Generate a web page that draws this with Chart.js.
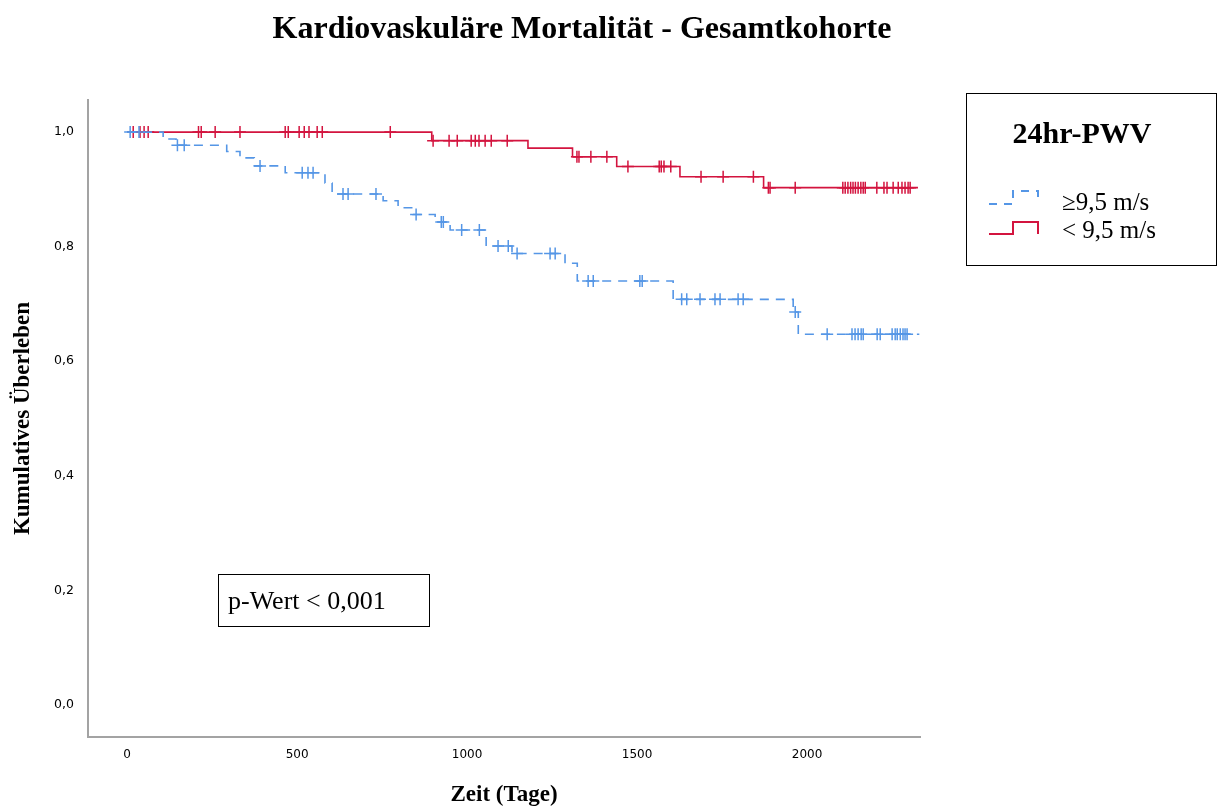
<!DOCTYPE html>
<html>
<head>
<meta charset="utf-8">
<script src="https://cdn.jsdelivr.net/npm/chart.js@4.4.1/dist/chart.umd.min.js"></script>
<style>
  html, body { margin: 0; padding: 0; background: #ffffff; }
  #wrap { position: relative; width: 1218px; height: 807px; }
</style>
</head>
<body>
<div id="wrap"><canvas id="km" width="1218" height="807"></canvas></div>
<script>
// Texts
const chartTitle = 'Kardiovaskuläre Mortalität - Gesamtkohorte';
const xAxisTitle = 'Zeit (Tage)';
const yAxisTitle = 'Kumulatives Überleben';
const legendTitle = '24hr-PWV';
const groupLabels = ['≥9,5 m/s', '< 9,5 m/s'];
const pValueText = 'p-Wert < 0,001';

// Axis ticks
const xTicks = [0, 500, 1000, 1500, 2000];
const yTicks = [0, 0.2, 0.4, 0.6, 0.8, 1.0];

// Group ≥9,5 m/s: step days and survival from that day on
const highDays = [0, 106, 144, 293, 332, 374, 465, 582, 603, 753, 797, 841, 906, 950, 1056, 1132, 1288, 1324, 1606, 1959, 1974, 2330];
const highSurv = [1.0, 0.988, 0.977, 0.966, 0.955, 0.941, 0.929, 0.911, 0.892, 0.880, 0.868, 0.856, 0.843, 0.829, 0.801, 0.788, 0.771, 0.740, 0.708, 0.686, 0.647, 0.647];
const highCensored = [9, 35, 148, 168, 391, 515, 532, 547, 635, 650, 732, 850, 924, 930, 984, 1036, 1091, 1121, 1147, 1244, 1259, 1356, 1371, 1508, 1515, 1631, 1646, 1685, 1729, 1744, 1797, 1812, 1965, 2059, 2132, 2141, 2150, 2159, 2165, 2206, 2215, 2250, 2259, 2265, 2274, 2282, 2288, 2294];

// Group < 9,5 m/s
const lowDays = [0, 896, 1179, 1310, 1440, 1626, 1872, 2326];
const lowSurv = [1.0, 0.985, 0.972, 0.957, 0.940, 0.922, 0.903, 0.903];
const lowCensored = [18, 38, 50, 62, 210, 218, 259, 332, 465, 474, 506, 521, 535, 559, 574, 774, 900, 947, 971, 1012, 1024, 1035, 1053, 1071, 1118, 1323, 1329, 1364, 1411, 1473, 1565, 1571, 1579, 1599, 1688, 1753, 1842, 1886, 1891, 1965, 2105, 2112, 2120, 2128, 2135, 2142, 2150, 2158, 2165, 2171, 2205, 2226, 2235, 2253, 2268, 2279, 2288, 2297, 2303];

const highColor = '#5596e6';
const lowColor = '#d3143f';
const axisColor = '#a3a3a3';
const serif = "'Liberation Serif', 'Times New Roman', serif";
const sans = "'DejaVu Sans', sans-serif";

// survival level of a step curve at a given day
function survivalAt(days, surv, t) {
  let s = surv[0];
  for (let i = 0; i < days.length; i++) {
    if (days[i] <= t) s = surv[i];
  }
  return s;
}
const toPoints = (days, surv) => days.map((d, i) => ({ x: d, y: surv[i] }));
const censorPoints = (cens, days, surv) => cens.map(t => ({ x: t, y: survivalAt(days, surv, t) }));

// Title, legend box and p-value box
const annotations = {
  id: 'annotations',
  afterDraw(chart) {
    const ctx = chart.ctx;
    ctx.save();
    ctx.fillStyle = '#000';
    ctx.textBaseline = 'alphabetic';
    ctx.textAlign = 'center';
    ctx.font = `bold 32px ${serif}`;
    ctx.fillText(chartTitle, 582, 38);

    // legend
    ctx.strokeStyle = '#000';
    ctx.lineWidth = 1;
    ctx.strokeRect(966.5, 93.5, 250, 172);
    ctx.font = `bold 30px ${serif}`;
    ctx.fillText(legendTitle, 1082, 143);

    ctx.lineWidth = 2;
    ctx.strokeStyle = highColor;
    ctx.setLineDash([8, 7]);
    ctx.beginPath();
    ctx.moveTo(989, 204); ctx.lineTo(1013, 204); ctx.lineTo(1013, 191);
    ctx.lineTo(1038, 191); ctx.lineTo(1038, 204);
    ctx.stroke();
    ctx.setLineDash([]);
    ctx.strokeStyle = lowColor;
    ctx.beginPath();
    ctx.moveTo(989, 234); ctx.lineTo(1013, 234); ctx.lineTo(1013, 222);
    ctx.lineTo(1038, 222); ctx.lineTo(1038, 234);
    ctx.stroke();

    ctx.textAlign = 'left';
    ctx.textBaseline = 'middle';
    ctx.font = `25px ${serif}`;
    ctx.fillText(groupLabels[0], 1062, 203);
    ctx.fillText(groupLabels[1], 1062, 231);

    // p-value box
    ctx.strokeStyle = '#000';
    ctx.lineWidth = 1;
    ctx.strokeRect(218.5, 574.5, 211, 52);
    ctx.font = `26px ${serif}`;
    ctx.fillText(pValueText, 228, 602);
    ctx.restore();
  }
};

new Chart(document.getElementById('km'), {
  type: 'scatter',
  data: {
    datasets: [
      {
        label: groupLabels[0],
        data: toPoints(highDays, highSurv),
        showLine: true,
        stepped: true,
        borderColor: highColor,
        borderWidth: 1.6,
        borderDash: [9, 7],
        pointRadius: 0,
        fill: false
      },
      {
        label: groupLabels[0] + ' zensiert',
        data: censorPoints(highCensored, highDays, highSurv),
        showLine: false,
        pointStyle: 'cross',
        pointRadius: 6,
        pointBorderWidth: 1.5,
        pointBorderColor: highColor
      },
      {
        label: groupLabels[1],
        data: toPoints(lowDays, lowSurv),
        showLine: true,
        stepped: true,
        borderColor: lowColor,
        borderWidth: 1.6,
        pointRadius: 0,
        fill: false
      },
      {
        label: groupLabels[1] + ' zensiert',
        data: censorPoints(lowCensored, lowDays, lowSurv),
        showLine: false,
        pointStyle: 'cross',
        pointRadius: 6,
        pointBorderWidth: 1.5,
        pointBorderColor: lowColor
      }
    ]
  },
  options: {
    responsive: false,
    animation: false,
    devicePixelRatio: 1,
    layout: { padding: { top: 100, right: 298, left: 0, bottom: 0 } },
    plugins: { legend: { display: false }, tooltip: { enabled: false } },
    scales: {
      x: {
        type: 'linear',
        min: -115,
        max: 2332,
        afterFit(scale) { scale.height = 70; },
        afterBuildTicks(scale) { scale.ticks = xTicks.map(v => ({ value: v })); },
        grid: { display: false },
        border: { display: true, color: axisColor, width: 2 },
        ticks: { color: '#000', font: { family: sans, size: 12 }, padding: 3, maxRotation: 0, callback: v => String(v) },
        title: { display: true, text: xAxisTitle, color: '#000', font: { family: serif, size: 23, weight: 'bold', lineHeight: 1.0 }, padding: { top: 0, bottom: 0 } }
      },
      y: {
        type: 'linear',
        min: -0.056,
        max: 1.056,
        afterFit(scale) { scale.width = 88; },
        afterBuildTicks(scale) { scale.ticks = yTicks.map(v => ({ value: v })); },
        grid: { display: false },
        border: { display: true, color: axisColor, width: 2 },
        ticks: { color: '#000', font: { family: sans, size: 12.5 }, padding: 6, callback: v => v.toFixed(1).replace('.', ',') },
        title: { display: true, text: yAxisTitle, color: '#000', font: { family: serif, size: 23, weight: 'bold' }, padding: { top: 9, bottom: 0 } }
      }
    }
  },
  plugins: [annotations]
});
</script>
</body>
</html>
